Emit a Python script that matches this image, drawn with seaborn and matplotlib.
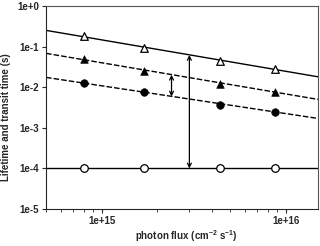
import numpy as np
import pandas as pd
import matplotlib
matplotlib.use("Agg")
import matplotlib.pyplot as plt
import seaborn as sns

# photon flux of the measured points (cm^-2 s^-1)
flux = [8.0e14, 1.7e15, 4.4e15, 8.8e15]

# measured times (s)
open_tri = [0.18, 0.093, 0.045, 0.028]
filled_tri = [0.048, 0.025, 0.0118, 0.0076]
filled_circ = [0.0128, 0.0074, 0.0036, 0.0024]
open_circ = [1e-4, 1e-4, 1e-4, 1e-4]

# fitted lines, read at the axis edges
line_x = [5e14, 1.5e16]
line_open_tri = [0.25, 0.018]
line_filled_tri = [0.068, 0.005]
line_filled_circ = [0.0174, 0.0017]
line_open_circ = [1e-4, 1e-4]

# arrows: (x, y_low, y_high)
arrow_small = (2.4e15, 0.0059, 0.0202)
arrow_big = (3.0e15, 1e-4, 0.062)

sns.set_style("ticks")
plt.rcParams["font.family"] = ["Liberation Sans", "DejaVu Sans"]
plt.rcParams["font.weight"] = "bold"
plt.rcParams["mathtext.fontset"] = "custom"
plt.rcParams["mathtext.rm"] = "Liberation Sans:bold"
plt.rcParams["mathtext.bf"] = "Liberation Sans:bold"
plt.rcParams["mathtext.default"] = "bf"

fig = plt.figure(figsize=(3.2, 2.46), dpi=100)
ax = fig.add_axes([0.144, 0.150, 0.850, 0.826])

lines = pd.DataFrame({"x": line_x * 4,
                      "y": line_open_tri + line_filled_tri + line_filled_circ + line_open_circ,
                      "s": ["ot"] * 2 + ["ft"] * 2 + ["fc"] * 2 + ["oc"] * 2})
sns.lineplot(data=lines, x="x", y="y", hue="s", style="s",
             palette={"ot": "black", "ft": "black", "fc": "black", "oc": "black"},
             dashes={"ot": "", "ft": (4, 1.5), "fc": (4, 1.5), "oc": ""},
             linewidth=1.0, legend=False, ax=ax, zorder=2)

pts = pd.DataFrame({"x": flux, "y": open_tri})
sns.scatterplot(data=pts, x="x", y="y", marker="^", s=30, facecolor="white",
                edgecolor="black", linewidth=0.9, ax=ax, zorder=3)
pts = pd.DataFrame({"x": flux, "y": filled_tri})
sns.scatterplot(data=pts, x="x", y="y", marker="^", s=30, color="black",
                edgecolor="black", ax=ax, zorder=3)
pts = pd.DataFrame({"x": flux, "y": filled_circ})
sns.scatterplot(data=pts, x="x", y="y", marker="o", s=30, color="black",
                edgecolor="black", ax=ax, zorder=3)
pts = pd.DataFrame({"x": flux, "y": open_circ})
sns.scatterplot(data=pts, x="x", y="y", marker="o", s=30, facecolor="white",
                edgecolor="black", linewidth=0.9, ax=ax, zorder=3)

for xa, ylo, yhi in (arrow_small, arrow_big):
    ax.annotate("", xy=(xa, ylo), xytext=(xa, yhi),
                arrowprops=dict(arrowstyle="<->", lw=0.9, color="black",
                                shrinkA=0, shrinkB=0, mutation_scale=7))

ax.set_xscale("log")
ax.set_yscale("log")
ax.set_xlim(5e14, 1.5e16)
ax.set_ylim(1e-5, 1)
ax.set_yticks([1e-5, 1e-4, 1e-3, 1e-2, 1e-1, 1])
ax.set_yticklabels(["1e-5", "1e-4", "1e-3", "1e-2", "1e-1", "1e+0"])
ax.yaxis.set_minor_locator(matplotlib.ticker.NullLocator())
ax.set_xticks([1e15, 1e16])
ax.set_xticklabels(["1e+15", "1e+16"])
ax.tick_params(axis="both", which="major", labelsize=7, length=3, width=0.8, pad=2)
ax.tick_params(axis="x", which="minor", length=2, width=0.6)
for sp in ax.spines.values():
    sp.set_visible(True)
    sp.set_linewidth(0.8)
ax.spines["top"].set_color("#555555")
ax.spines["right"].set_color("#555555")

ax.set_xlabel("photon flux (cm$^{-2}$ s$^{-1}$)", fontsize=7, fontweight="bold")
ax.set_ylabel("Lifetime and transit time (s)", fontsize=7, fontweight="bold")
ax.xaxis.set_label_coords(0.515, -0.095)
ax.yaxis.set_label_coords(-0.128, 0.453)

fig.savefig("out.png", dpi=100)
